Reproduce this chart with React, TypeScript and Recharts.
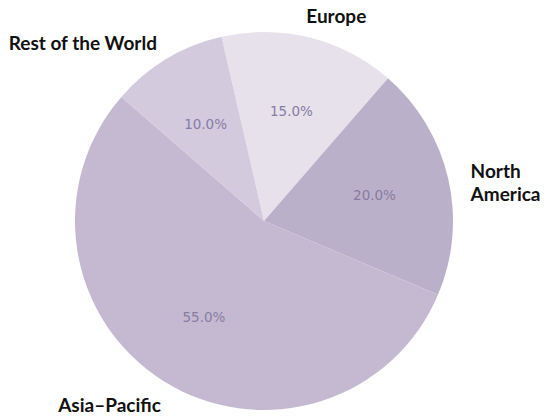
import React from 'react'
import { PieChart, Pie, Cell } from 'recharts'

const regions = ['Europe', 'North America', 'Asia–Pacific', 'Rest of the World']
const shares = [15, 20, 55, 10]
const sliceColors = ['#e6e1eb', '#bbb0c9', '#c5b9d2', '#d3cade']

const data = regions.map((name, i) => ({ name, value: shares[i] }))

const RAD = Math.PI / 180

// small nudges so the outer names sit where the original put them
const nudge: Record<string, [number, number]> = {
  Europe: [-8, -4],
  'North America': [4, 7],
  'Asia–Pacific': [7, 7],
  'Rest of the World': [0, -1],
}

// eslint-disable-next-line @typescript-eslint/no-explicit-any
const renderLabel = (props: any) => {
  const { cx, cy, midAngle, outerRadius, percent, name } = props
  const cos = Math.cos(-midAngle * RAD)
  const sin = Math.sin(-midAngle * RAD)
  const px = cx + outerRadius * 0.6 * cos
  const py = cy + outerRadius * 0.6 * sin
  const [dx, dy] = nudge[name] || [0, 0]
  const nx = cx + outerRadius * 1.1 * cos + dx
  const ny = cy + outerRadius * 1.1 * sin + dy
  const anchor = cos >= 0 ? 'start' : 'end'
  const lines = name === 'North America' ? ['North', 'America'] : [name]
  const lh = 23
  const y0 = ny - ((lines.length - 1) * lh) / 2
  return (
    <g>
      <text
        x={px}
        y={py}
        textAnchor="middle"
        dominantBaseline="central"
        fill="#877ca2"
        fontFamily="DejaVu Sans"
        fontSize={13.5}
      >
        {`${(percent * 100).toFixed(1)}%`}
      </text>
      <text
        x={nx}
        y={y0}
        textAnchor={anchor}
        dominantBaseline="central"
        fill="#111"
        fontFamily="Lato"
        fontWeight="bold"
        fontSize={19}
      >
        {lines.map((l, i) => (
          <tspan key={l} x={nx} y={y0 + i * lh}>
            {l}
          </tspan>
        ))}
      </text>
    </g>
  )
}

const App: React.FC = () => {
  return (
    <div style={{ position: 'absolute', left: 0, top: 0, background: '#fff' }}>
      <PieChart width={550} height={420}>
        <Pie
          data={data}
          dataKey="value"
          nameKey="name"
          cx={259}
          cy={216}
          outerRadius={189}
          startAngle={103}
          endAngle={-257}
          stroke="none"
          label={renderLabel}
          labelLine={false}
          isAnimationActive={false}
        >
          {data.map((entry, index) => (
            <Cell key={`cell-${index}`} fill={sliceColors[index]} />
          ))}
        </Pie>
      </PieChart>
    </div>
  )
}

export default App
